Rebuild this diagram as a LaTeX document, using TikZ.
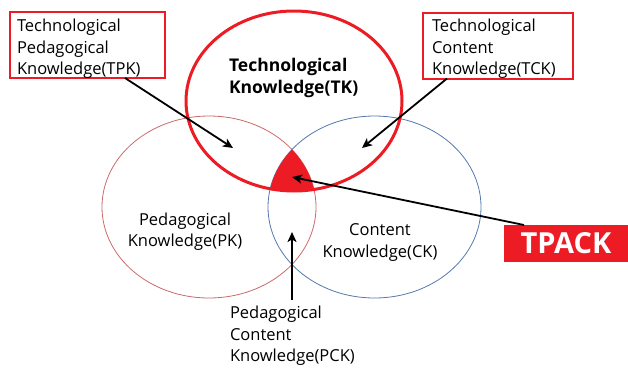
\documentclass[tikz,border=0pt]{standalone}
\usepackage{fontspec}
\setmainfont{Open Sans}
\usetikzlibrary{arrows.meta,shapes.geometric}
\definecolor{hotred}{RGB}{237,28,36}
\definecolor{pkline}{RGB}{205,105,105}
\definecolor{ckline}{RGB}{85,120,175}

\begin{document}
\begin{tikzpicture}[x=1pt,y=-1pt,
  every node/.style={inner sep=0pt,outer sep=0pt},
  txt/.style={font=\fontsize{16.5}{21.5}\selectfont},
  labelbox/.style={draw=hotred,line width=2pt,minimum height=66pt},
  setring/.style={ellipse,line width=0.8pt},
  pointer/.style={line width=1.8pt,-{Stealth[length=10pt,width=9pt,inset=2.5pt]}}
]
\useasboundingbox (0,0) rectangle (628,367);

% the two lower sets
\node[setring,draw=pkline,minimum width=214pt,minimum height=182pt] (pk) at (209,207) {};
\node[setring,draw=ckline,minimum width=213pt,minimum height=182pt] (ck) at (374.5,207) {};

% common region of all three sets
\begin{scope}
  \clip (209,207) ellipse [x radius=107pt,y radius=91pt];
  \clip (374.5,207) ellipse [x radius=106.5pt,y radius=91pt];
  \fill[hotred] (294,101) ellipse [x radius=108pt,y radius=90pt];
\end{scope}

% technology set on top
\node[ellipse,draw=hotred,line width=3pt,minimum width=216pt,minimum height=180pt] (tk) at (294,101) {};

% set names
\node[font=\fontsize{17.5}{21.5}\selectfont\bfseries,align=left,anchor=west] (tkname) at (229,78)
  {Technological\\Knowledge(TK)};
\node[txt,align=center] (pkname) at (185,231.5) {Pedagogical\\Knowledge(PK)};
\node[txt,align=center] (ckname) at (380,242.5) {Content\\Knowledge(CK)};
\node[txt,align=left,anchor=west] (pck) at (230,336) {Pedagogical\\Content\\Knowledge(PCK)};

% framed labels
\node[labelbox,minimum width=155pt] (tpk) at (87.5,45) {};
\node[txt,align=left,anchor=west] (tpktext) at (17,49) {Technological\\Pedagogical\\Knowledge(TPK)};
\node[labelbox,minimum width=150pt] (tck) at (498,45.5) {};
\node[txt,align=left,anchor=west] (tcktext) at (432,49) {Technological\\Content\\Knowledge(TCK)};
\node[fill=hotred,text=white,font=\fontsize{29}{32}\selectfont\bfseries,minimum width=124pt,minimum height=37pt] (tpack) at (566,243.5) {TPACK};

% arrow tips
\coordinate (tpktip) at (233,148);
\coordinate (tcktip) at (362,148);
\coordinate (pcktip) at (292,232);
\coordinate (tpacktip) at (292,177);

\draw[pointer] ([xshift=115pt]tpk.south west) -- (tpktip);
\draw[pointer] ([xshift=24pt]tck.south west) -- (tcktip);
\draw[pointer] ([yshift=6pt]pck.north west -| pcktip) -- (pcktip);
\draw[pointer] ([xshift=20pt]tpack.north west) -- (tpacktip);
\end{tikzpicture}
\end{document}
